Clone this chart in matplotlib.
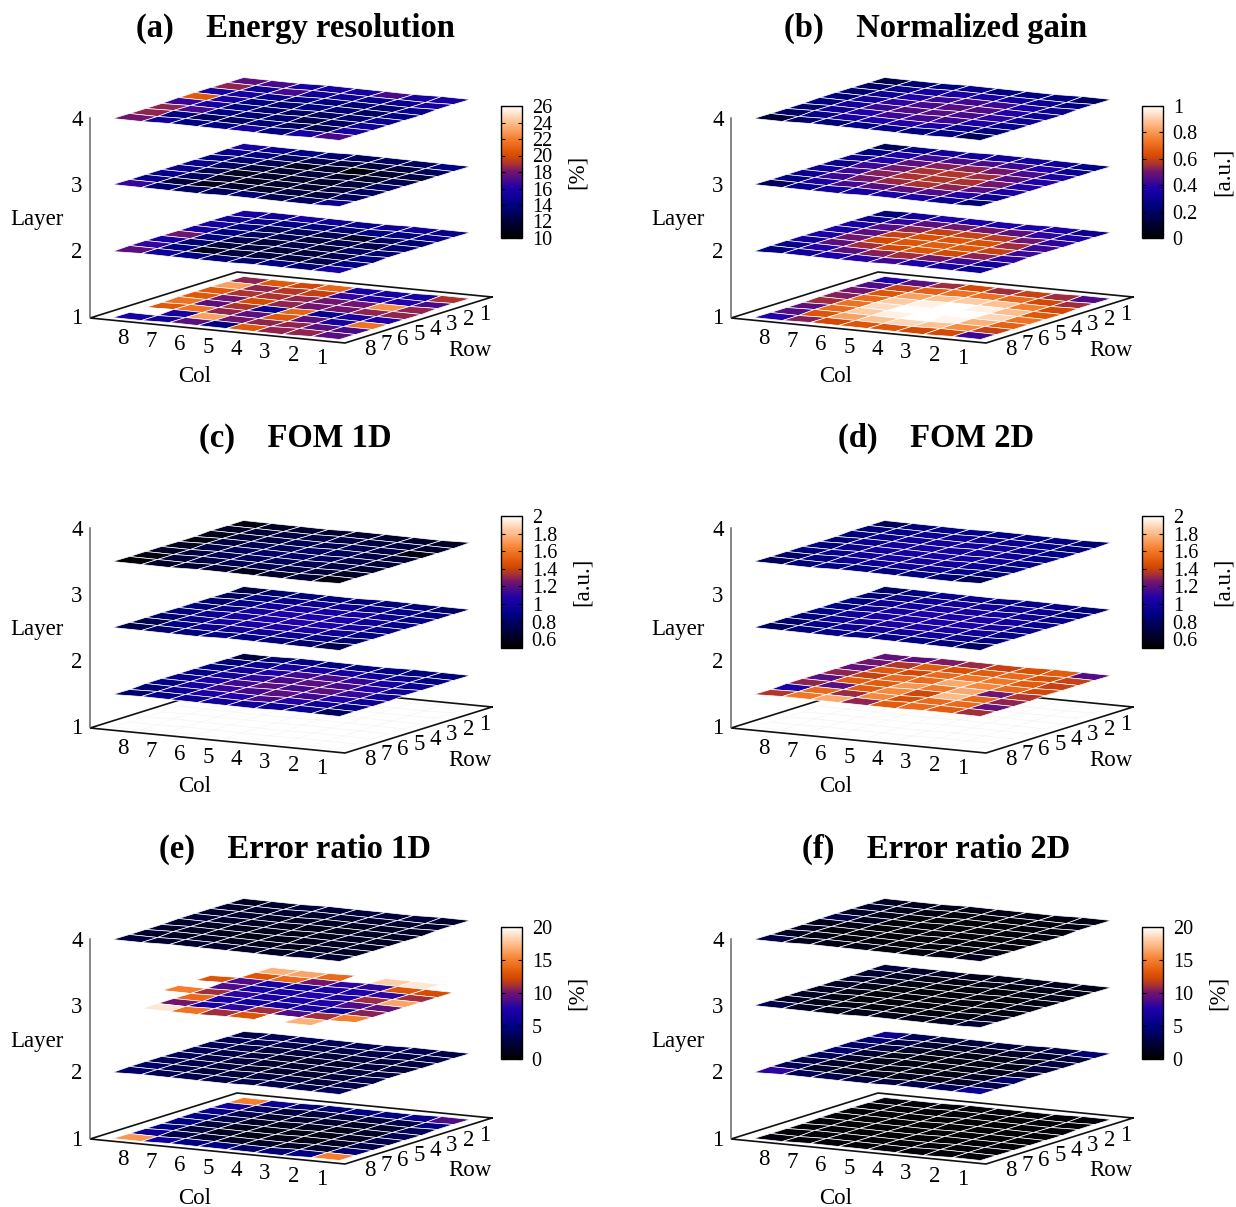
import matplotlib
matplotlib.use('Agg')
import matplotlib.pyplot as plt
import matplotlib.colors as mc
from matplotlib.transforms import Affine2D

plt.rcParams['font.family'] = ['Liberation Serif', 'DejaVu Serif']

# all layer tables: lines are row 1..8, entries are col 8..1
res_l1 = [[18.5, 20.5, 19.8, 21, 15.5, 15.5, 15.5, 19],
          [23, 18.5, 19.2, 19.5, 16.5, 16, 16, 17],
          [20.5, 19, 19, 18.5, 18, 18, 22.5, 18.5],
          [20.5, 18, 20, 18.5, 18, 18, 18.5, 18.5],
          [21.5, 17.5, 19, 14.5, 21, 14.5, 15.5, 16],
          [20.5, 21.5, 18.5, 17.5, 20.5, 17.5, 15.5, 21.5],
          [26, 15.5, 23, 18, 18.5, 18.5, 17.5, 17],
          [15.5, 15, 17.5, 14, 20.5, 18.5, 18.5, 17.5]]
res_l2 = [[15.5, 15, 15.5, 15, 14.5, 15, 15, 14.5],
          [15, 14.5, 14, 14, 13.5, 14, 14, 14.5],
          [15.5, 14, 13, 13, 12.5, 11.5, 13, 13.5],
          [15.5, 14, 13, 12.5, 12, 12.5, 12.5, 13.5],
          [18, 14, 12.5, 12, 12.5, 12, 13, 13.5],
          [15.5, 13.5, 12, 12, 12, 12, 12.5, 14],
          [16.5, 14, 11, 12, 12, 12, 12.5, 14],
          [17.5, 15, 14, 13.5, 13.5, 14, 13.5, 15.5]]
res_l3 = [[15.5, 14.5, 14, 13.5, 13, 13, 13, 14],
          [14.5, 14, 13, 12.5, 12, 12, 12, 13],
          [14, 13.5, 12.5, 11, 11.5, 10.2, 11.5, 12],
          [14.5, 13, 12, 11.5, 12, 11.5, 11.5, 12.5],
          [14.5, 12.5, 11, 11.5, 11.5, 11.5, 12, 13],
          [14.5, 13, 11.5, 11, 11.5, 11.5, 12, 13],
          [14.5, 12, 11, 11.5, 11.5, 12, 12, 13],
          [16.5, 13.5, 13, 13, 13.5, 12.5, 13, 14.5]]
res_l4 = [[17.5, 17, 15.5, 15.5, 15.5, 17, 15.5, 15.5],
          [18.5, 15, 17, 15, 15, 14.5, 14.5, 15.5],
          [15.5, 15.5, 14.5, 14, 14, 13.5, 13.5, 14.5],
          [20.5, 15.5, 14, 13.5, 14, 13.5, 13, 14],
          [16.5, 15.5, 14, 13.5, 13, 13, 13.5, 14.5],
          [18.5, 17, 14, 13.5, 13.5, 12.5, 13, 15],
          [18.5, 14, 13, 13, 13.5, 13, 12.5, 15.5],
          [18, 15, 14, 14, 15.5, 14, 15.5, 17]]

gain_l1 = [[.37, .47, .55, .62, .55, .6, .55, .45],
           [.45, .6, .68, .72, .72, .7, .62, .55],
           [.5, .65, .82, .88, .9, .88, .75, .62],
           [.52, .7, .9, .97, 1, .97, .87, .66],
           [.55, .72, .93, 1, 1, 1, .92, .72],
           [.47, .7, .9, .97, 1, .98, .85, .68],
           [.46, .65, .82, .88, .92, .88, .78, .6],
           [.38, .52, .62, .65, .65, .62, .62, .42]]
gain_l2 = [[.24, .33, .37, .37, .37, .37, .37, .3],
           [.3, .4, .47, .5, .5, .47, .4, .36],
           [.35, .46, .53, .6, .6, .58, .5, .4],
           [.36, .47, .6, .64, .65, .64, .55, .42],
           [.36, .5, .62, .65, .67, .66, .6, .42],
           [.33, .47, .55, .62, .65, .62, .53, .4],
           [.28, .38, .47, .52, .55, .5, .42, .33],
           [.24, .32, .36, .39, .42, .37, .35, .3]]
gain_l3 = [[.18, .27, .33, .33, .33, .33, .3, .25],
           [.25, .35, .42, .44, .44, .42, .38, .3],
           [.3, .38, .47, .52, .53, .5, .44, .35],
           [.3, .42, .5, .56, .57, .55, .46, .38],
           [.32, .42, .52, .56, .57, .56, .5, .38],
           [.3, .42, .5, .54, .56, .53, .46, .36],
           [.25, .36, .43, .46, .47, .45, .38, .3],
           [.18, .27, .33, .34, .35, .35, .3, .23]]
gain_l4 = [[.15, .22, .25, .28, .25, .25, .25, .2],
           [.2, .28, .33, .35, .35, .33, .3, .25],
           [.22, .3, .38, .42, .43, .42, .35, .3],
           [.24, .33, .4, .44, .46, .45, .38, .3],
           [.24, .33, .42, .45, .46, .44, .4, .3],
           [.22, .32, .38, .42, .43, .42, .36, .28],
           [.2, .28, .34, .37, .38, .36, .3, .24],
           [.12, .2, .24, .26, .27, .25, .25, .17]]

# layer 1 of both FOM panels is above the colour range everywhere
fom_over = [[2.5] * 8 for _ in range(8)]

fom1_l2 = [[.7, .85, .9, .88, .88, .88, .86, .85],
           [.85, .93, 1, 1.02, 1.02, .98, .93, .88],
           [.88, .98, 1.06, 1.14, 1.16, 1.12, 1.02, .95],
           [.9, 1, 1.1, 1.16, 1.2, 1.16, 1.08, .97],
           [.92, 1.04, 1.14, 1.2, 1.16, 1.2, 1.12, .98],
           [.9, 1.02, 1.12, 1.15, 1.2, 1.14, 1.06, .97],
           [.85, .96, 1.04, 1.08, 1.16, 1.08, .98, .9],
           [.82, .9, .96, .98, .98, .94, .93, .78]]
fom1_l3 = [[.72, .82, .85, .85, .85, .85, .85, .8],
           [.78, .88, .92, .95, .95, .92, .9, .85],
           [.82, .9, .98, 1.02, 1.02, 1, .95, .88],
           [.85, .92, 1, 1.05, 1.06, 1.05, .98, .9],
           [.85, .95, 1.02, 1.06, 1.08, 1.05, 1, .9],
           [.82, .92, 1, 1.03, 1.05, 1.02, .96, .88],
           [.75, .88, .95, .97, .98, .95, .9, .82],
           [.72, .8, .85, .88, .88, .85, .82, .72]]
fom1_l4 = [[.55, .6, .65, .65, .65, .65, .65, .62],
           [.6, .68, .7, .72, .72, .7, .7, .65],
           [.58, .68, .72, .75, .75, .75, .72, .55],
           [.55, .7, .75, .78, .8, .78, .72, .68],
           [.6, .72, .77, .8, .8, .78, .73, .68],
           [.62, .7, .75, .78, .78, .75, .72, .66],
           [.55, .68, .72, .74, .74, .72, .68, .62],
           [.52, .62, .65, .66, .58, .62, .66, .55]]

fom2_l2 = [[1.22, 1.2, 1.27, 1.32, 1.4, 1.45, 1.5, 1.18],
           [1.25, 1.35, 1.5, 1.45, 1.5, 1.55, 1.45, 1.4],
           [1.22, 1.48, 1.42, 1.55, 1.6, 1.6, 1.5, 1.4],
           [1.3, 1.4, 1.55, 1.55, 1.75, 1.65, 1.55, 1.42],
           [1.2, 1.5, 1.5, 1.7, 1.6, 1.75, 1.25, 1.35],
           [1.3, 1.2, 1.5, 1.65, 1.42, 1.8, 1.55, 1.3],
           [1.04, 1.55, 1.32, 1.65, 1.45, 1.55, 1.55, 1.22],
           [1.35, 1.6, 1.75, 1.3, 1.5, 1.55, 1.5, 1.33]]
fom2_l3 = [[.8, .88, .92, .92, .9, .9, .9, .85],
           [.85, .92, .96, .98, .98, .96, .94, .88],
           [.88, .95, 1, 1.02, 1.02, 1, .97, .9],
           [.88, .96, 1.02, 1.05, 1.05, 1.03, 1, .92],
           [.88, .97, 1.03, 1.05, 1.06, 1.05, 1, .92],
           [.86, .95, 1, 1.03, 1.05, 1.02, .98, .9],
           [.82, .9, .96, .98, .98, .97, .93, .86],
           [.78, .85, .9, .9, .9, .88, .86, .78]]
fom2_l4 = [[.78, .86, .9, .9, .88, .88, .88, .84],
           [.84, .9, .94, .95, .95, .94, .92, .86],
           [.86, .92, .97, 1, 1, .98, .95, .88],
           [.84, .94, 1, 1.02, 1.02, 1, .96, .9],
           [.86, .95, 1, 1.02, 1.03, 1, .97, .9],
           [.85, .92, .98, 1, 1, .98, .95, .88],
           [.8, .88, .94, .96, .96, .94, .9, .84],
           [.76, .84, .88, .88, .86, .86, .84, .76]]

err1_l1 = [[15, 6, 4.5, 4.5, 5, 5, 5.5, 9],
           [6.5, 4, 2.5, 2.5, 2.5, 2.5, 3, 5],
           [5.5, 3, 2, 2, 2, 1.5, 2, 3.5],
           [5, 3, 1.5, 1.2, 1.2, 1.2, 1.5, 3.5],
           [5, 2.5, 1.2, 1, 1, 1, 1.5, 3],
           [5, 2.5, 1.5, 1, 1, 1, 1.5, 3],
           [6, 3, 2, 1.5, 1.5, 1.5, 2, 4.5],
           [16, 6.5, 5, 5, 4, 4.5, 5, 15]]
err1_l2 = [[3, 3.5, 3.5, 3.5, 3.5, 3.5, 3.5, 3],
           [3.5, 3.5, 3, 3, 3, 3, 3, 3],
           [3.5, 3, 2.5, 2.5, 2.5, 2.5, 2.5, 2.5],
           [3.5, 3, 2.5, 2, 2, 2, 2.5, 2.5],
           [3.5, 3, 2.5, 2, 2, 2, 2.5, 2.5],
           [3.5, 3, 2.5, 2, 2, 2, 2.5, 3],
           [4, 3, 2.5, 2.5, 2.5, 2.5, 2.5, 3],
           [4, 3.5, 3, 3, 3, 3, 3, 3.5]]
err1_l3 = [[22, 17, 16.5, 14, 22, 18, 19, 21],
           [22, 13, 14, 10, 8, 8, 13, 12.5],
           [13, 9, 7, 6.5, 7, 7.5, 8, 11],
           [22, 9, 7, 7, 7.5, 7, 11, 16.5],
           [15, 11, 8, 7, 7, 7.5, 9, 9.5],
           [22, 14, 7, 6.5, 6.5, 7, 6, 10.5],
           [21, 10, 7, 8, 11, 9, 11, 15],
           [22, 19, 14.5, 11, 13, 22, 17, 22]]
err1_l4 = [[1.5, 2, 2.5, 2.5, 2.5, 2.5, 2.5, 2],
           [2, 2, 2, 2, 2, 2, 2, 2],
           [2, 2, 1.5, 1.5, 1.5, 1.5, 1.5, 1.5],
           [2.5, 2, 1.5, 1.2, 1.2, 1.2, 1.5, 1.5],
           [2, 1.5, 1.2, 1.2, 1, 1.2, 1.5, 1.5],
           [2, 1.5, 1.2, 1, 1, 1.2, 1.5, 1.5],
           [2, 1.5, 1.5, 1.2, 1.2, 1.2, 1.5, 1.5],
           [2.5, 2, 2, 2, 1.5, 1.5, 2, 2]]

err2_l1 = [[.5, .4, .3, .3, .3, .3, .3, .4],
           [.4, .3, .2, .2, .2, .2, .2, .3],
           [.3, .2, .2, .1, .1, .1, .2, .2],
           [.3, .2, .1, .1, .1, .1, .1, .2],
           [.3, .2, .1, .1, .1, .1, .1, .2],
           [.3, .2, .1, .1, .1, .1, .2, .2],
           [.4, .3, .2, .2, .2, .2, .2, .3],
           [.5, .4, .3, .3, .3, .3, .4, .4]]
err2_l2 = [[6, 3.5, 2.5, 2.5, 2.5, 2.5, 3, 4.5],
           [4.5, 3, 2, 1.5, 1.5, 1.5, 2, 2.5],
           [4, 2.5, 1.5, 1, 1, 1, 1.5, 2.5],
           [4.5, 2, 1, .8, .8, .8, 1, 2.5],
           [3.5, 2, 1, .8, .7, .8, 1.2, 2],
           [3, 1.5, 1, .8, .8, .8, 1.5, 4],
           [3.5, 2, 1.5, 1, 1, 1.2, 1.8, 3],
           [8, 3.5, 3, 2.5, 2.5, 3, 3.5, 6]]
err2_l3 = [[2.5, 2, 1.5, 1.2, 1.2, 1.2, 1.2, 1],
           [2, 1.5, 1, .8, .8, .8, 1, 1],
           [2, 1.2, .8, .5, .5, .5, .8, 1],
           [1.5, 1, .5, .4, .4, .4, .5, .8],
           [1.5, 1, .5, .4, .3, .4, .5, .8],
           [1.5, .8, .5, .4, .4, .4, .5, .8],
           [1.5, 1, .8, .5, .5, .5, .8, 1.2],
           [3, 1.5, 1, 1, 1, 1, 1.2, 2]]
err2_l4 = [[1.5, 1.2, 1, 1, .8, .8, .8, .8],
           [2, 1.2, .8, .5, .5, .5, .5, .8],
           [1.5, 1, .5, .4, .4, .4, .5, .5],
           [3, 1.5, .5, .4, .3, .3, .4, .5],
           [1.2, .8, .4, .3, .3, .3, .4, .5],
           [1.5, .5, .4, .3, .3, .3, .4, .5],
           [1.5, .8, .5, .4, .4, .4, .5, .8],
           [3, 1.2, 1, .8, .5, .5, .8, 1.2]]

res_ticks = [10, 12, 14, 16, 18, 20, 22, 24, 26]
gain_ticks = [0, 0.2, 0.4, 0.6, 0.8, 1]
fom_ticks = [0.6, 0.8, 1, 1.2, 1.4, 1.6, 1.8, 2]
err_ticks = [0, 5, 10, 15, 20]

col_labels = [1, 2, 3, 4, 5, 6, 7, 8]
row_labels = [1, 2, 3, 4, 5, 6, 7, 8]
layer_labels = [1, 2, 3, 4]

# sheets of the FOM panels sit half a layer under their tick
panels = [
    ('(a)    Energy resolution', [res_l1, res_l2, res_l3, res_l4], 10, 26, res_ticks, '[%]', 0, 0, 0),
    ('(b)    Normalized gain', [gain_l1, gain_l2, gain_l3, gain_l4], 0, 1, gain_ticks, '[a.u.]', 641, 0, 0),
    ('(c)    FOM 1D', [fom_over, fom1_l2, fom1_l3, fom1_l4], 0.5, 2, fom_ticks, '[a.u.]', 0, 410, 0.5),
    ('(d)    FOM 2D', [fom_over, fom2_l2, fom2_l3, fom2_l4], 0.5, 2, fom_ticks, '[a.u.]', 641, 410, 0.5),
    ('(e)    Error ratio 1D', [err1_l1, err1_l2, err1_l3, err1_l4], 0, 20, err_ticks, '[%]', 0, 821, 0),
    ('(f)    Error ratio 2D', [err2_l1, err2_l2, err2_l3, err2_l4], 0, 20, err_ticks, '[%]', 641, 821, 0),
]

palette = mc.LinearSegmentedColormap.from_list('pal', [
    (0.0, '#000000'), (0.125, '#00003c'), (0.25, '#000082'), (0.375, '#1e00aa'),
    (0.5, '#6e1470'), (0.56, '#aa3232'), (0.625, '#d74b00'), (0.75, '#f57d2d'),
    (0.875, '#fdbe8c'), (1.0, '#ffffff')])

W, H = 1236, 1207
FONT = 16.5
LAYER_PX = 66.3
edges_col = [8.5 - i for i in range(9)]
edges_row = [0.5 + i for i in range(9)]


def sheet(z):
    # col, row in grid units to panel pixels for a flat sheet at height z
    return Affine2D.from_values(-255 / 9, -25 / 9, -147 / 9, 46 / 9, 492, 297 - LAYER_PX * (z - 1))


fig = plt.figure(figsize=(W / 100, H / 100), dpi=100)

for title, layers, vmin, vmax, ticks, unit, ox, oy, shift in panels:
    ax = fig.add_axes([ox / W, 1 - (oy + 410) / H, 600 / W, 410 / H])
    ax.set_xlim(0, 600)
    ax.set_ylim(410, 0)
    ax.set_axis_off()
    norm = mc.Normalize(vmin, vmax)

    base = sheet(1)
    ax.plot([0, 9, 9, 0, 0], [0, 0, 9, 9, 0], color='#111111', lw=1.2,
            transform=base + ax.transData, solid_joinstyle='miter', zorder=1)
    ax.plot([90, 90], [317, 317 - LAYER_PX * 3], color='#666666', lw=1.1, zorder=1)

    for z, values in zip(layer_labels, layers):
        over = values is fom_over
        t = sheet(z if over else z - shift)
        mesh = ax.pcolormesh(edges_col, edges_row, values, cmap=palette, norm=norm,
                             edgecolors='#f2f2f2' if over else 'white',
                             linewidth=0.3 if over else 0.5, antialiased=True,
                             transform=t + ax.transData, zorder=1 + z)
        ax.text(77, 319 - LAYER_PX * (z - 1), str(z), fontsize=FONT, ha='center', va='center')

    for c in col_labels:
        x, y = base.transform((c, 9))
        ax.text(x + 5, y + 18, str(c), fontsize=FONT, ha='center', va='center')
    for r in row_labels:
        x, y = base.transform((0, r))
        ax.text(x + 9, y + 12, str(r), fontsize=FONT, ha='center', va='center')

    ax.text(37, 220, 'Layer', fontsize=FONT, ha='center', va='center')
    ax.text(195, 377, 'Col', fontsize=FONT, ha='center', va='center')
    ax.text(470, 350, 'Row', fontsize=FONT, ha='center', va='center')
    ax.text(295, 28, title, fontsize=23.5, fontweight='bold', ha='center', va='center')

    cax = fig.add_axes([(ox + 501) / W, 1 - (oy + 238) / H, 21 / W, 132 / H])
    cb = fig.colorbar(mesh, cax=cax)
    cb.set_ticks(ticks, labels=[f'{v:g}' for v in ticks])
    cb.minorticks_off()
    cax.tick_params(axis='y', direction='in', left=True, right=True, length=3,
                    width=0.8, pad=7, labelsize=14.5)
    cb.outline.set_linewidth(1.0)
    ax.text(577 if unit == '[%]' else 582, 172, unit, fontsize=FONT, rotation=90,
            ha='center', va='center')

fig.savefig('out.png', dpi=100)
